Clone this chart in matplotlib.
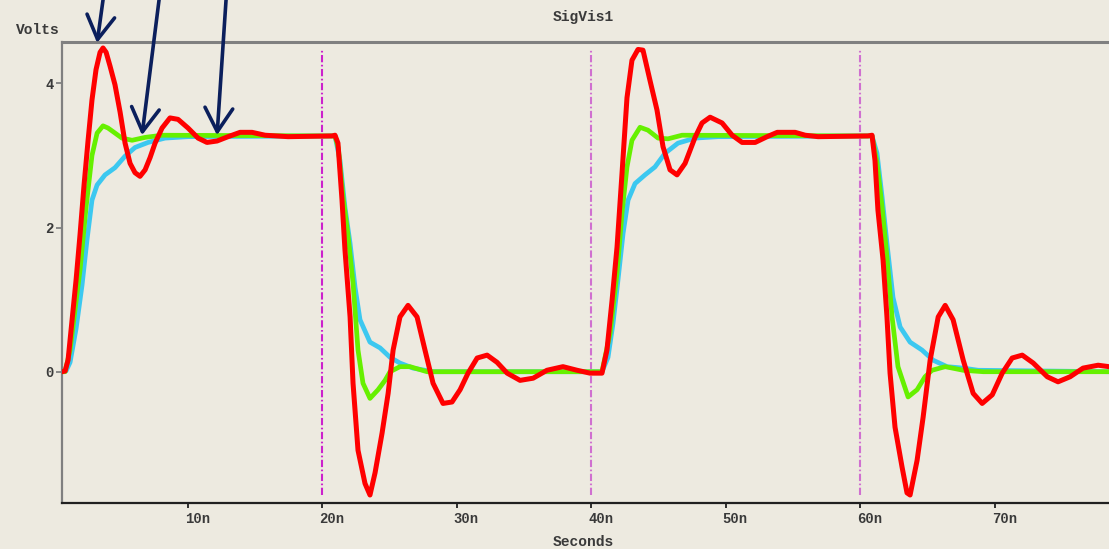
import matplotlib
matplotlib.use("Agg")
import matplotlib.pyplot as plt
import matplotlib.transforms as mtransforms

# ---------------- data (time in ns, voltage in V) ----------------
red_t = [0.65, 0.88, 1.10, 1.40, 1.70, 1.99, 2.29, 2.59, 2.88, 3.18, 3.48, 3.70, 3.93, 4.22,
         4.59, 4.97, 5.34, 5.71, 6.08, 6.45, 6.83, 7.20, 7.57, 8.09, 8.68, 9.28, 10.02, 10.77,
         11.43, 12.18, 13.0, 13.89, 14.78, 15.75, 17.46, 20.73,
         20.95, 21.17, 21.47, 21.69, 22.07, 22.29, 22.66, 23.18, 23.55, 23.93, 24.45, 24.9,
         25.27, 25.78, 26.38, 27.05, 27.64, 28.24, 28.98, 29.65, 30.25, 30.84, 31.52, 32.26,
         33.0, 33.75, 34.71, 35.68, 36.71, 37.9, 38.95, 39.91, 40.8,
         41.17, 41.55, 41.92, 42.29, 42.66, 43.03, 43.48, 43.85, 44.37, 44.89, 45.34, 45.86,
         46.38, 46.98, 47.72, 48.24, 48.84, 49.73, 50.48, 51.22, 52.19, 53.08, 53.83, 55.16,
         55.91, 56.87, 60.58,
         60.88, 61.1, 61.32, 61.7, 61.99, 62.22, 62.59, 63.11, 63.48, 63.71, 64.23, 64.68,
         65.2, 65.8, 66.32, 66.91, 67.66, 68.4, 69.07, 69.82, 70.56, 71.3, 72.05, 72.87,
         73.91, 74.71, 75.61, 76.57, 77.69, 78.5]
red_v = [0.0, 0.01, 0.16, 0.72, 1.28, 1.90, 2.59, 3.21, 3.77, 4.19, 4.43, 4.49, 4.43, 4.24,
         3.98, 3.60, 3.17, 2.89, 2.76, 2.71, 2.80, 2.97, 3.17, 3.38, 3.52, 3.50, 3.38, 3.24,
         3.18, 3.20, 3.26, 3.32, 3.32, 3.28, 3.26, 3.27,
         3.28, 3.17, 2.38, 1.69, 0.76, -0.16, -1.09, -1.55, -1.71, -1.40, -0.85, -0.30,
         0.30, 0.76, 0.92, 0.76, 0.30, -0.16, -0.44, -0.42, -0.25, -0.02, 0.19, 0.23,
         0.13, -0.02, -0.12, -0.09, 0.02, 0.07, 0.02, -0.02, -0.02,
         0.30, 0.99, 1.73, 2.75, 3.80, 4.32, 4.47, 4.46, 4.04, 3.63, 3.12, 2.80,
         2.73, 2.89, 3.25, 3.45, 3.53, 3.45, 3.28, 3.18, 3.18, 3.26, 3.32, 3.32,
         3.28, 3.26, 3.27,
         3.28, 2.93, 2.24, 1.55, 0.76, -0.02, -0.77, -1.32, -1.68, -1.71, -1.23, -0.63,
         0.16, 0.76, 0.92, 0.72, 0.16, -0.30, -0.44, -0.32, -0.02, 0.19, 0.23, 0.12,
         -0.07, -0.14, -0.07, 0.05, 0.09, 0.07]

green_t = [0.65, 0.88, 1.25, 1.62, 1.99, 2.44, 2.88, 3.26, 3.70, 4.07, 4.37, 5.11, 5.86,
           6.83, 8.09, 20.73,
           20.95, 21.2, 21.55, 21.9, 22.29, 22.66, 23.03, 23.55, 24.15, 24.67, 25.04, 25.78,
           26.53, 27.79, 40.8,
           41.4, 41.92, 42.29, 42.66, 43.03, 43.63, 44.22, 44.97, 45.71, 46.75, 60.58,
           60.88, 61.25, 61.63, 61.99, 62.37, 62.81, 63.56, 64.23, 64.82, 65.34, 66.32,
           67.66, 69.15, 78.5]
green_v = [0.0, 0.0, 0.30, 0.86, 1.41, 2.28, 3.00, 3.31, 3.41, 3.38, 3.34, 3.24, 3.21,
           3.25, 3.28, 3.27,
           3.27, 3.10, 2.42, 1.92, 1.23, 0.30, -0.16, -0.37, -0.25, -0.12, 0.0, 0.07,
           0.07, 0.0, 0.0,
           0.53, 1.37, 2.20, 2.84, 3.21, 3.39, 3.35, 3.24, 3.23, 3.28, 3.27,
           3.27, 2.90, 2.28, 1.59, 0.76, 0.07, -0.35, -0.25, -0.07, 0.02, 0.07,
           0.02, 0.0, 0.0]

cyan_t = [0.65, 0.95, 1.25, 1.70, 2.14, 2.51, 2.88, 3.26, 3.85, 4.59, 5.34, 6.08, 7.05,
          8.31, 10.02, 20.73,
          20.95, 21.32, 21.69, 22.07, 22.44, 22.81, 23.55, 24.3, 25.04, 25.78, 26.75, 28.24,
          40.8,
          41.25, 41.62, 41.99, 42.37, 42.74, 43.26, 44.0, 44.74, 45.49, 46.45, 47.72, 49.43,
          60.58,
          60.88, 61.25, 61.63, 61.99, 62.44, 62.97, 63.71, 64.6, 65.42, 66.46, 67.66, 68.77,
          78.5]
cyan_v = [0.0, 0.01, 0.13, 0.60, 1.20, 1.83, 2.38, 2.59, 2.73, 2.83, 2.99, 3.11, 3.18,
          3.24, 3.26, 3.27,
          3.27, 2.93, 2.28, 1.78, 1.17, 0.72, 0.41, 0.33, 0.20, 0.12, 0.05, 0.0,
          0.0,
          0.20, 0.67, 1.27, 1.92, 2.38, 2.61, 2.73, 2.84, 3.03, 3.17, 3.24, 3.26,
          3.27,
          3.27, 3.03, 2.42, 1.78, 1.03, 0.62, 0.41, 0.30, 0.16, 0.07, 0.05, 0.02,
          0.0]

marker_t = [20, 40, 60]
x_ticks = [10, 20, 30, 40, 50, 60, 70]
x_tick_labels = ["10n", "20n", "30n", "40n", "50n", "60n", "70n"]
y_ticks = [0, 2, 4]
y_tick_labels = ["0", "2", "4"]

# arrow tips (data) for the annotation arrows
arrow_tip_t = [3.26, 6.60, 12.18]
arrow_tip_v = [4.56, 3.28, 3.28]

# ---------------- figure ----------------
W, H = 1109, 549
BG = "#EDEAE0"
fig = plt.figure(figsize=(W / 100, H / 100), dpi=100, facecolor=BG)

left_px, right_px, top_px, bot_px = 62, 1109, 42, 502.5
ax = fig.add_axes([left_px / W, 1 - bot_px / H, (right_px - left_px) / W, (bot_px - top_px) / H])
ax.set_facecolor(BG)
ax.set_xlim(0.65, 78.5)
ax.set_ylim(-1.814, 4.573)

FONT = dict(family="Liberation Mono", weight="bold", color="#3a3a3a")

ax.plot(cyan_t, cyan_v, color="#3CC8F0", lw=3.4, solid_joinstyle="round", zorder=3)
ax.plot(green_t, green_v, color="#66F000", lw=3.4, solid_joinstyle="round", zorder=4)
ax.plot(red_t, red_v, color="#FF0000", lw=3.6, solid_joinstyle="round", zorder=5)

for i, t in enumerate(marker_t):
    col = "#CC22CC" if i == 0 else "#D070D0"
    ax.vlines(t, -1.71, 4.46, colors=col, lw=1.5, linestyles=(0, (3.5, 1.2, 0.8, 1.2)), zorder=2)

# spines
ax.spines["right"].set_visible(False)
ax.spines["top"].set_color("#808080")
ax.spines["top"].set_linewidth(2.2)
ax.spines["left"].set_color("#808080")
ax.spines["left"].set_linewidth(1.6)
ax.spines["bottom"].set_color("#202020")
ax.spines["bottom"].set_linewidth(1.6)

ax.set_xticks(x_ticks)
ax.set_xticklabels(x_tick_labels, fontsize=10, **FONT)
ax.set_yticks(y_ticks)
ax.set_yticklabels(y_tick_labels, fontsize=10, **FONT)
ax.tick_params(axis="x", direction="out", length=3.5, width=1.3, color="#202020", pad=3)
ax.tick_params(axis="y", direction="out", length=4, width=1.3, color="#808080", pad=2)
offset = mtransforms.ScaledTranslation(-3 / 100, 0, fig.dpi_scale_trans)
for lbl in ax.get_xticklabels():
    lbl.set_horizontalalignment("left")
    lbl.set_transform(lbl.get_transform() + offset)

# texts
fig.text(583 / W, 1 - 17 / H, "SigVis1", ha="center", va="center", fontsize=10.5, **FONT)
fig.text(38 / W, 1 - 30.5 / H, "Volts", ha="center", va="center", fontsize=10.5, **FONT)
fig.text(583 / W, 1 - 542 / H, "Seconds", ha="center", va="center", fontsize=10.5, **FONT)

# annotation arrows
tails_px = [(104.4, 559), (160.3, 559), (226.7, 559)]
for (tx, tv), (px, py) in zip(zip(arrow_tip_t, arrow_tip_v), tails_px):
    ax.annotate("", xy=(tx, tv), xycoords="data",
                xytext=(px, py), textcoords="figure pixels",
                arrowprops=dict(arrowstyle="->,head_length=0.85,head_width=0.5",
                                color="#0B1F5C", lw=2.6, shrinkA=0, shrinkB=0,
                                mutation_scale=20),
                annotation_clip=False, zorder=10)

fig.savefig("out.png", dpi=100, facecolor=BG)
